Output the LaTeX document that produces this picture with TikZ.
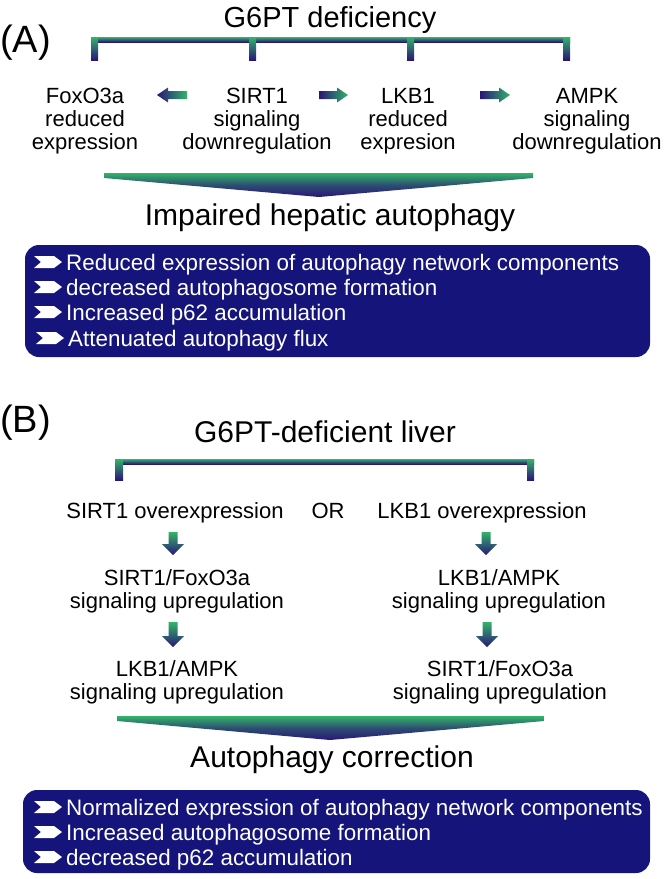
\documentclass[tikz,border=0pt]{standalone}
\usepackage{fontspec}
\setmainfont{Liberation Sans}
\definecolor{agreen}{RGB}{50,180,105}
\definecolor{aindigo}{RGB}{42,22,120}
\definecolor{boxblue}{RGB}{20,20,122}
\tikzset{
  lbl/.style={font=\fontsize{22}{23}\selectfont, align=center, inner sep=0pt, anchor=base},
  ttl/.style={font=\fontsize{30}{32}\selectfont, inner sep=0pt, anchor=base},
  panel/.style={font=\fontsize{38}{40}\selectfont, inner sep=0pt, anchor=base west},
  item/.style={font=\fontsize{22.4}{24}\selectfont, text=white, inner sep=0pt, anchor=base west},
  bluebox/.style={fill=boxblue, rounded corners=14pt},
  vshade/.style={top color=agreen, bottom color=aindigo},
  bigshade/.style={top color=agreen, bottom color=aindigo, middle color=aindigo!65!agreen},
  hshade/.style={left color=aindigo, right color=agreen},
  chevron/.pic={\fill[white] (0,-6) -- (20,-6) -- (28,0) -- (20,6) -- (0,6) -- (7,0) -- cycle;}
}
% horizontal block arrows: tail x, tip x, centre y
\newcommand\blkarrowR[3]{\shade[hshade] (#1,#3-4) -- (#2-11,#3-4) -- (#2-11,#3-7.5) -- (#2,#3) -- (#2-11,#3+7.5) -- (#2-11,#3+4) -- (#1,#3+4) -- cycle;}
\newcommand\blkarrowL[3]{\shade[hshade] (#1,#3-4) -- (#2+11,#3-4) -- (#2+11,#3-7.5) -- (#2,#3) -- (#2+11,#3+7.5) -- (#2+11,#3+4) -- (#1,#3+4) -- cycle;}
% vertical block arrow: centre x, top y, tip y
\newcommand\blkarrowD[3]{\shade[vshade] (#1-4.5,#2) -- (#1+4.5,#2) -- (#1+4.5,#3-11) -- (#1+11,#3-11) -- (#1,#3) -- (#1-11,#3-11) -- (#1-4.5,#3-11) -- cycle;}
\begin{document}
\begin{tikzpicture}[x=1pt,y=-1pt]
\useasboundingbox (0,0) rectangle (666,879);

% ---------------- (A) ----------------
\node[panel] (pA) at (0,52) {(A)};
\node[ttl, font=\fontsize{29}{31}\selectfont] (defA) at (330,27) {G6PT deficiency};

% bracket
\shade[vshade] (91,37) rectangle (570,42);
\foreach \x in {91,249,407,563} {\shade[vshade] (\x,37) rectangle (\x+7,60);}

% multi-line nodes: base anchor = baseline of last line
\node[lbl] (fox) at (85,149) {FoxO3a\\reduced\\expression};
\node[lbl] (sirt) at (257,149) {SIRT1\\signaling\\downregulation};
\node[lbl] (lkb) at (408,149) {LKB1\\reduced\\expresion};
\node[lbl] (ampk) at (587,149) {AMPK\\signaling\\downregulation};

\blkarrowL{187}{157}{95}
\blkarrowR{319}{348}{95}
\blkarrowR{480}{510}{95}

\shade[bigshade] (104,173) -- (533,173) -- (533,178) -- (319,197) -- (104,178) -- cycle;

\node[ttl] (impA) at (330,225) {Impaired hepatic autophagy};

\fill[bluebox] (25,245) rectangle (650,357);
\node[item] (a1) at (66,270) {Reduced expression of autophagy network components};
\node[item] (a2) at (66,295) {decreased autophagosome formation};
\node[item] (a3) at (66,320) {Increased p62 accumulation};
\node[item] (a4) at (68,346) {Attenuated autophagy flux};
\foreach \y in {262,287,312} {\pic at (34,\y) {chevron};}
\pic at (36,338) {chevron};

% ---------------- (B) ----------------
\node[panel] (pB) at (0,432) {(B)};
\node[ttl] (defB) at (325,442) {G6PT-deficient liver};

\shade[vshade] (115,459) rectangle (534,464);
\shade[vshade] (115,459) rectangle (123,480);
\shade[vshade] (527,459) rectangle (534,480);

\node[lbl] (sirtover) at (175,518) {SIRT1 overexpression};
\node[lbl] (or) at (328,518) {OR};
\node[lbl] (lkbover) at (482,518) {LKB1 overexpression};

\blkarrowD{173}{532}{555}
\blkarrowD{486}{532}{555}

\node[lbl] (sf1) at (177,608) {SIRT1/FoxO3a\\signaling upregulation};
\node[lbl] (la1) at (499,608) {LKB1/AMPK\\signaling upregulation};

\blkarrowD{173}{622}{647}
\blkarrowD{487}{622}{647}

\node[lbl] (la2) at (177,699) {LKB1/AMPK\\signaling upregulation};
\node[lbl] (sf2) at (500,699) {SIRT1/FoxO3a\\signaling upregulation};

\shade[bigshade] (117,716) -- (544,716) -- (544,721) -- (330,740) -- (117,721) -- cycle;

\node[ttl] (corr) at (332,767) {Autophagy correction};

\fill[bluebox] (23,790) rectangle (650,873);
\node[item] (b1) at (66,815) {Normalized expression of autophagy network components};
\node[item] (b2) at (66,840) {Increased autophagosome formation};
\node[item] (b3) at (66,865) {decreased p62 accumulation};
\foreach \y in {807,832,857} {\pic at (34,\y) {chevron};}
\end{tikzpicture}
\end{document}
